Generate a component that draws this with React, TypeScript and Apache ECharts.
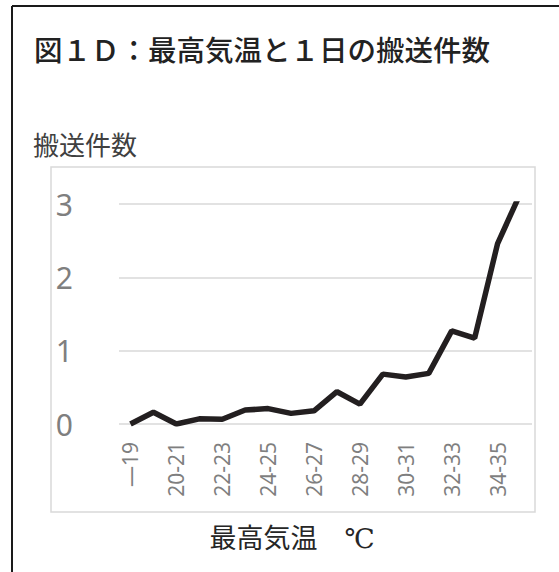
import React, { useEffect, useRef } from "react";
import * as echarts from "echarts";

const titleText = "図１Ｄ：最高気温と１日の搬送件数";
const yAxisName = "搬送件数";
const xAxisName = "最高気温　℃";

const categories = [
  "—19", "19-20", "20-21", "21-22", "22-23", "23-24", "24-25", "25-26", "26-27",
  "27-28", "28-29", "29-30", "30-31", "31-32", "32-33", "33-34", "34-35", "36—",
];
const values = [
  0, 0.16, 0.0, 0.07, 0.065, 0.19, 0.21, 0.145, 0.18,
  0.44, 0.27, 0.68, 0.64, 0.69, 1.27, 1.17, 2.46, 3.15,
];
const yTicks = [0, 1, 2, 3];

export default function App() {
  const ref = useRef<HTMLDivElement>(null);
  useEffect(() => {
    if (!ref.current) return;
    const chart = echarts.init(ref.current, null, { renderer: "svg" });
    chart.setOption({
      animation: false,
      backgroundColor: "#ffffff",
      grid: { left: 119, right: 27, top: 204, bottom: 148, containLabel: false },
      xAxis: {
        type: "category",
        data: categories,
        boundaryGap: true,
        axisLine: { show: false },
        axisTick: { show: false },
        axisLabel: {
          interval: 1,
          rotate: 90,
          margin: 18,
          color: "#7f7f7f",
          fontSize: 21,
          fontFamily: "Noto Sans",
        },
      },
      yAxis: {
        type: "value",
        min: yTicks[0],
        max: yTicks[yTicks.length - 1],
        interval: 1,
        axisLine: { show: false },
        axisTick: { show: false },
        axisLabel: {
          margin: 46,
          color: "#7f7f7f",
          fontSize: 30,
          fontFamily: "Noto Sans",
        },
        splitLine: { lineStyle: { color: "#d9d9d9", width: 1.5 } },
      },
      series: [
        {
          type: "line",
          data: values,
          symbol: "none",
          clip: true,
          lineStyle: { color: "#231f20", width: 5.5 },
        },
      ],
      graphic: [
        { type: "line", shape: { x1: 12, y1: 6, x2: 559, y2: 6 }, style: { stroke: "#1a1a1a", lineWidth: 2 } },
        { type: "line", shape: { x1: 12, y1: 6, x2: 12, y2: 572 }, style: { stroke: "#1a1a1a", lineWidth: 2 } },
        {
          type: "rect",
          shape: { x: 51, y: 167, width: 484, height: 345 },
          style: { fill: "none", stroke: "#d9d9d9", lineWidth: 1.5 },
        },
        {
          type: "text",
          x: 34,
          y: 48,
          style: {
            text: titleText,
            fontSize: 28.5,
            fontFamily: "Noto Sans CJK JP",
            fontWeight: 500,
            fill: "#222222",
            verticalAlign: "middle",
          },
        },
        {
          type: "text",
          x: 33,
          y: 143,
          style: {
            text: yAxisName,
            fontSize: 26,
            fontFamily: "Noto Sans CJK JP",
            fill: "#404040",
            verticalAlign: "middle",
          },
        },
        {
          type: "text",
          x: 292,
          y: 538,
          style: {
            text: xAxisName,
            fontSize: 27,
            fontFamily: "'DejaVu Serif', 'Noto Sans CJK JP'",
            fill: "#262626",
            align: "center",
            verticalAlign: "middle",
          },
        },
      ],
    });
    return () => chart.dispose();
  }, []);
  return (
    <div
      ref={ref}
      style={{ position: "fixed", left: 0, top: 0, width: 559, height: 572 }}
    />
  );
}
